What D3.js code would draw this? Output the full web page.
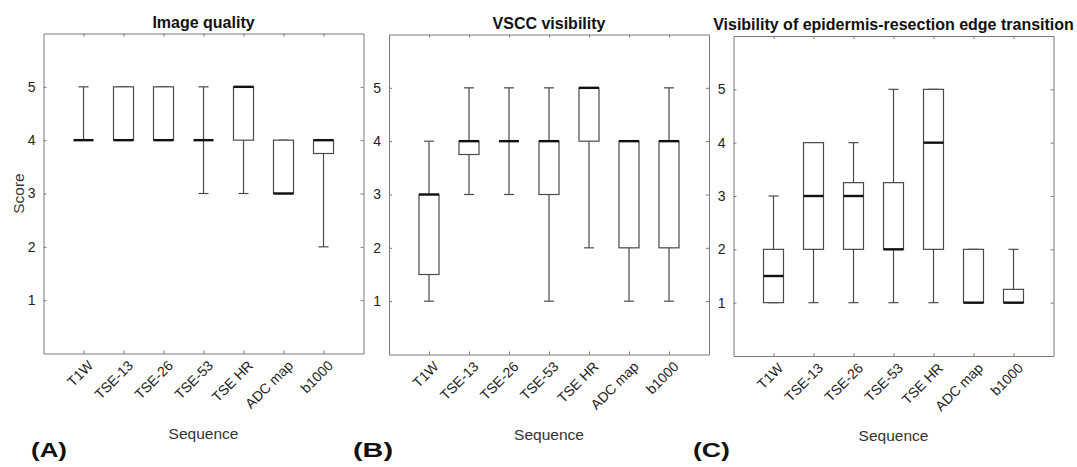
<!DOCTYPE html>
<html>
<head>
<meta charset="utf-8">
<script src="https://cdn.jsdelivr.net/npm/d3@7"></script>
<style>
    body { margin: 0; background: #fff; }
    svg { display: block; font-family: "Liberation Sans", Arial, Helvetica, sans-serif; }
    .axis path, .axis line { stroke: #7a7a7a; }
    .axis text { fill: #222; }
</style>
</head>
<body>
<svg class="chartArea" width="1077" height="467"></svg>
<script>
// Categories shared by all three panels
var sequences = ['T1W', 'TSE-13', 'TSE-26', 'TSE-53', 'TSE HR', 'ADC map', 'b1000'];
var yTicks = [1, 2, 3, 4, 5];

var panelTitles = ['Image quality', 'VSCC visibility', 'Visibility of epidermis-resection edge transition'];
var panelLetters = ['(A)', '(B)', '(C)'];

// (A) Image quality
var qualityLow    = [4, 4, 4, 3, 3, 3, 2];
var qualityQ1     = [4, 4, 4, 4, 4, 3, 3.75];
var qualityMedian = [4, 4, 4, 4, 5, 3, 4];
var qualityQ3     = [4, 5, 5, 4, 5, 4, 4];
var qualityHigh   = [5, 5, 5, 5, 5, 4, 4];

// (B) VSCC visibility
var vsccLow    = [1, 3, 3, 1, 2, 1, 1];
var vsccQ1     = [1.5, 3.75, 4, 3, 4, 2, 2];
var vsccMedian = [3, 4, 4, 4, 5, 4, 4];
var vsccQ3     = [3, 4, 4, 4, 5, 4, 4];
var vsccHigh   = [4, 5, 5, 5, 5, 4, 5];

// (C) Visibility of epidermis-resection edge transition
var edgeLow    = [1, 1, 1, 1, 1, 1, 1];
var edgeQ1     = [1, 2, 2, 2, 2, 1, 1];
var edgeMedian = [1.5, 3, 3, 2, 4, 1, 1];
var edgeQ3     = [2, 4, 3.25, 3.25, 5, 2, 1.25];
var edgeHigh   = [3, 4, 4, 5, 5, 2, 2];

var panels = [
    { low: qualityLow, q1: qualityQ1, med: qualityMedian, q3: qualityQ3, high: qualityHigh },
    { low: vsccLow, q1: vsccQ1, med: vsccMedian, q3: vsccQ3, high: vsccHigh },
    { low: edgeLow, q1: edgeQ1, med: edgeMedian, q3: edgeQ3, high: edgeHigh }
];

var svg = d3.select('.chartArea');

var panelLeft = [43.5, 389, 733.5],
    panelTop = [33.5, 34.5, 36],
    width = 320,
    height = 320;
var boxHalf = 0.25;   // in category units
var capHalf = 0.125;
var lineColor = '#4a4a4a';

panels.forEach(function(p, k) {
    var chart = svg.append('g')
        .attr('transform', 'translate(' + panelLeft[k] + ',' + panelTop[k] + ')');

    var x = d3.scaleLinear().domain([0, sequences.length + 1]).range([0, width]);
    var y = d3.scaleLinear().domain([0, 6]).range([height, 0]);

    var idx = d3.range(sequences.length);

    // Axes (box on, ticks pointing in)
    var xAxis = d3.axisBottom(x).tickValues(idx.map(i => i + 1))
        .tickFormat(i => sequences[i - 1]).tickSizeInner(-3).tickSizeOuter(0);
    var xTop = d3.axisTop(x).tickValues(idx.map(i => i + 1))
        .tickFormat('').tickSizeInner(-3).tickSizeOuter(0);
    var yAxis = d3.axisLeft(y).tickValues(yTicks).tickFormat(d3.format('d'))
        .tickSizeInner(-3).tickSizeOuter(0).tickPadding(8);
    var yRight = d3.axisRight(y).tickValues(yTicks).tickFormat('')
        .tickSizeInner(-3).tickSizeOuter(0);

    var gx = chart.append('g').attr('class', 'x axis')
        .attr('transform', 'translate(0,' + height + ')').call(xAxis);
    chart.append('g').attr('class', 'x axis').call(xTop);
    chart.append('g').attr('class', 'y axis').call(yAxis);
    chart.append('g').attr('class', 'y axis')
        .attr('transform', 'translate(' + width + ',0)').call(yRight);

    chart.selectAll('.y.axis text').style('font-size', '14px');

    // Angle the sequence labels
    gx.selectAll('text')
        .style('font-size', '14px')
        .attr('text-anchor', 'end')
        .attr('y', 0)
        .attr('dy', 0)
        .attr('transform', 'translate(10,13) rotate(-45)');

    // Whiskers
    chart.append('g').selectAll('line')
        .data(idx).enter().append('line')
        .attr('x1', i => x(i + 1)).attr('x2', i => x(i + 1))
        .attr('y1', i => y(p.low[i])).attr('y2', i => y(p.high[i]))
        .attr('stroke', lineColor).attr('stroke-width', 1.2);

    // Whisker caps
    ['low', 'high'].forEach(function(key) {
        chart.append('g').selectAll('line')
            .data(idx).enter().append('line')
            .attr('x1', i => x(i + 1 - capHalf)).attr('x2', i => x(i + 1 + capHalf))
            .attr('y1', i => y(p[key][i])).attr('y2', i => y(p[key][i]))
            .attr('stroke', lineColor).attr('stroke-width', 1.2);
    });

    // Boxes
    chart.append('g').selectAll('rect')
        .data(idx).enter().append('rect')
        .attr('x', i => x(i + 1 - boxHalf))
        .attr('width', x(2 * boxHalf) - x(0))
        .attr('y', i => y(p.q3[i]))
        .attr('height', i => y(p.q1[i]) - y(p.q3[i]))
        .attr('fill', '#fff')
        .attr('stroke', lineColor).attr('stroke-width', 1.2);

    // Medians
    chart.append('g').selectAll('line')
        .data(idx).enter().append('line')
        .attr('x1', i => x(i + 1 - boxHalf)).attr('x2', i => x(i + 1 + boxHalf))
        .attr('y1', i => y(p.med[i])).attr('y2', i => y(p.med[i]))
        .attr('stroke', '#111').attr('stroke-width', 2.4);

    // Title
    chart.append('text')
        .attr('x', width / 2)
        .attr('y', -6)
        .attr('text-anchor', 'middle')
        .style('font-size', '16px')
        .style('font-weight', 'bold')
        .attr('fill', '#111')
        .text(panelTitles[k]);

    // x axis label
    chart.append('text')
        .attr('x', width / 2)
        .attr('y', height + 85)
        .attr('text-anchor', 'middle')
        .style('font-size', '15.5px')
        .attr('fill', '#333')
        .text('Sequence');

    // y axis label only on first panel
    if (k === 0) {
        chart.append('text')
            .attr('transform', 'rotate(-90)')
            .attr('x', -y(3))
            .attr('y', -20)
            .attr('text-anchor', 'middle')
            .style('font-size', '15.5px')
            .attr('fill', '#333')
            .text('Score');
    }
});

// Panel letters
var letterX = [31, 353, 693];
var letterW = [36, 40, 37];
svg.selectAll('.panelLetter')
    .data(panelLetters).enter().append('text')
    .attr('class', 'panelLetter')
    .attr('x', (d, i) => letterX[i])
    .attr('y', 457)
    .attr('textLength', (d, i) => letterW[i])
    .attr('lengthAdjust', 'spacingAndGlyphs')
    .style('font-size', '21px')
    .style('font-weight', 'bold')
    .attr('fill', '#111')
    .text(d => d);
</script>
</body>
</html>
